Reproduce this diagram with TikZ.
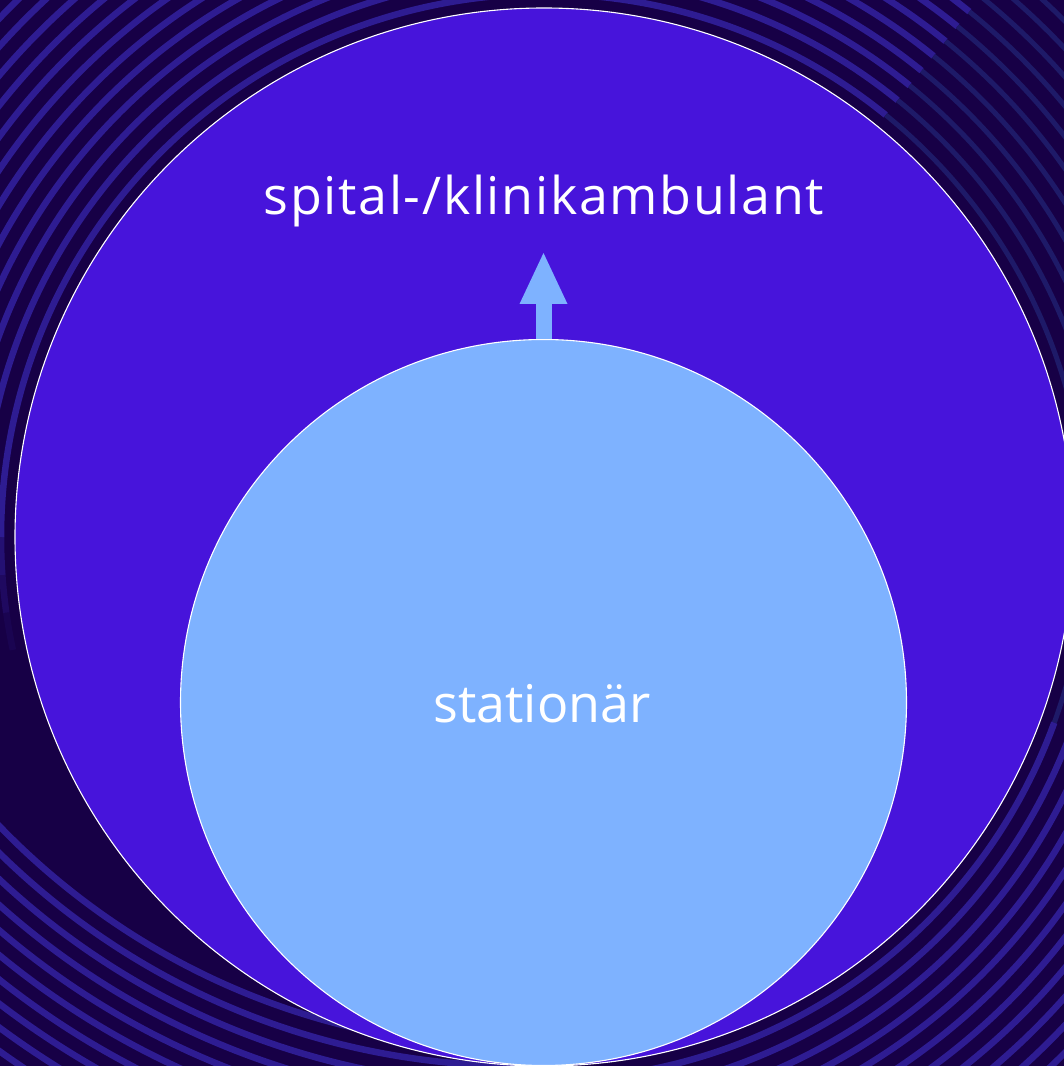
\documentclass[tikz,border=0pt]{standalone}
\usepackage{fontspec}
\setmainfont{Open Sans}
\newfontfamily\widesans[LetterSpace=3.2]{Open Sans}
\usetikzlibrary{arrows.meta}
\definecolor{bgdark}{HTML}{170046}
\definecolor{ringbright}{HTML}{2E1C92}
\definecolor{ringdim}{HTML}{1E1A68}
\definecolor{outerfill}{HTML}{4714DB}
\definecolor{innerfill}{HTML}{7EB2FF}
\begin{document}
\begin{tikzpicture}[x=1pt,y=1pt,
  ring/.style={line width=6.5pt, draw=ringbright},
  dimring/.style={line width=5pt, draw=ringdim},
  bubble/.style={circle, draw=white, line width=1.1pt, inner sep=0pt},
  bigtext/.style={text=white, anchor=base, inner sep=0pt},
  flow/.style={draw=innerfill, line width=16pt, -{Triangle[width=48pt,length=51pt,line width=0pt,fill=innerfill]}}]
\useasboundingbox (0,0) rectangle (1064,1066);
\begin{scope}
\clip (0,0) rectangle (1064,1066);
\fill[bgdark] (0,0) rectangle (1064,1066);
% rings concentric with the big circle
\foreach \r in {543,562,...,850} {
  \draw[ring] ([shift={(51:\r pt)}]544,529) arc (51:180:\r pt);
  \draw[ring, opacity=0.6] ([shift={(180:\r pt)}]544,529) arc (180:184:\r pt);
  \draw[ring, opacity=0.35] ([shift={(184:\r pt)}]544,529) arc (184:188:\r pt);
  \draw[ring, opacity=0.15] ([shift={(188:\r pt)}]544,529) arc (188:192:\r pt);
  \draw[dimring] ([shift={(-20:\r pt)}]544,529) arc (-20:51:\r pt);
  \draw[ring] ([shift={(-90:\r pt)}]544,529) arc (-90:-20:\r pt);
}
% lower left ring set
\begin{scope}
\clip (0,0) rectangle (544,420);
\foreach \r in {724,743,...,950} {
  \draw[ring] (520,743) circle (\r pt);
}
\end{scope}
\end{scope}
\node[bubble, fill=outerfill, minimum size=1058pt] (outer) at (544,529) {};
\node[bubble, fill=innerfill, minimum size=726pt] (inner) at (543.5,363.5) {};
\coordinate (tip) at (543.5,813);
\draw[flow] (inner.north) -- (tip);
\node[bigtext, font=\widesans\fontsize{52}{62}\selectfont] (amb) at (544,851) {spital-/klinikambulant};
\node[bigtext, font=\fontsize{52}{62}\selectfont] (stat) at (542,343) {stationär};
\end{tikzpicture}
\end{document}
